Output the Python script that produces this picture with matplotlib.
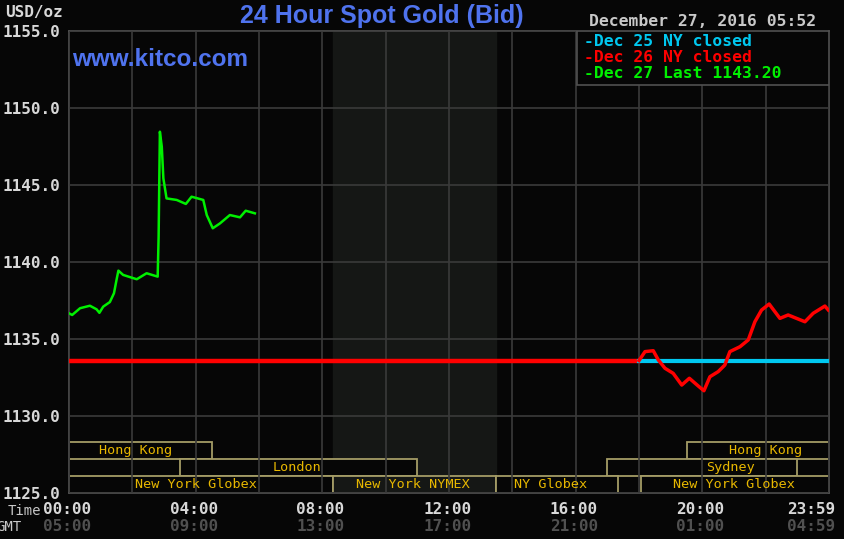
import matplotlib
matplotlib.use("Agg")
import matplotlib.pyplot as plt
import matplotlib.transforms as mtransforms

# Dec 27 (green), hours NY time vs price
green_t = [0.0, 0.1, 0.35, 0.66, 0.87, 0.96, 1.08, 1.29, 1.42, 1.5, 1.56, 1.71, 2.14, 2.45,
           2.8, 2.83, 2.87, 2.93, 2.98, 3.08, 3.4, 3.69, 3.87, 4.24, 4.35, 4.54, 4.77,
           5.08, 5.4, 5.58, 5.87]
green_p = [1136.67, 1136.56, 1137.0, 1137.16, 1136.93, 1136.7, 1137.1, 1137.4, 1137.97,
           1138.83, 1139.44, 1139.16, 1138.88, 1139.27, 1139.05, 1141.64, 1148.46, 1147.49,
           1145.43, 1144.13, 1144.03, 1143.77, 1144.24, 1144.03, 1143.05, 1142.19, 1142.51,
           1143.05, 1142.9, 1143.33, 1143.16]

# Dec 26 (red): flat holiday close, then trading after 18:00
red_t = [0.0, 18.0, 18.19, 18.45, 18.61, 18.82, 19.08, 19.35, 19.59, 19.87, 20.05, 20.24,
         20.5, 20.71, 20.87, 21.19, 21.45, 21.66, 21.87, 22.11, 22.45, 22.71, 23.24, 23.5,
         23.87, 23.98]
red_p = [1133.6, 1133.6, 1134.18, 1134.24, 1133.64, 1133.1, 1132.77, 1132.01, 1132.45,
         1131.95, 1131.64, 1132.55, 1132.88, 1133.31, 1134.18, 1134.5, 1134.94, 1136.12,
         1136.88, 1137.27, 1136.34, 1136.56, 1136.12, 1136.67, 1137.14, 1136.88]

# Dec 25 (cyan) close
cyan_t = [18.0, 24.0]
cyan_p = [1133.6, 1133.6]

y_ticks = [1125, 1130, 1135, 1140, 1145, 1150, 1155]
time_labels = ["00:00", "04:00", "08:00", "12:00", "16:00", "20:00", "23:59"]
gmt_labels = ["05:00", "09:00", "13:00", "17:00", "21:00", "01:00", "04:59"]
label_pos = [0, 4, 8, 12, 16, 20, 23.5]

# market sessions: (name, start, end, row, label centre)
markets = [("Hong Kong", 0, 4.5, 0, 2.1), ("Hong Kong", 19.5, 24, 0, 22.0),
           ("London", 3.5, 11.0, 1, 7.2), ("Sydney", 17.0, 23.0, 1, 20.9),
           ("New York Globex", 0, 8.33, 2, 4.0), ("New York NYMEX", 8.33, 13.5, 2, 10.85),
           ("NY Globex", 13.5, 17.35, 2, 15.2), ("New York Globex", 18.05, 24, 2, 21.0)]

bg = "#060606"
shade = "#151715"
blue = "#4f73ee"
mono = "DejaVu Sans Mono"

fig = plt.figure(figsize=(8.44, 5.39), dpi=100, facecolor=bg)
ax = fig.add_axes([69/844, 1 - 493/539, 760/844, 462/539], facecolor=bg)
ax.set_xlim(0, 24)
ax.set_ylim(1125, 1155)

# NYMEX shading
ax.axvspan(8.33, 13.5, color=shade, zorder=0)

ax.set_xticks(range(0, 25, 2))
ax.set_yticks(y_ticks)
ax.set_xticklabels([])
ax.set_yticklabels(["%.1f" % v for v in y_ticks], family=mono, fontweight="bold",
                   fontsize=11.5, color="#d8d8d8")
ax.tick_params(length=0, pad=6)
ax.set_axisbelow(False)
ax.grid(True, color="#3a3a3a", linewidth=1.2)
for s in ax.spines.values():
    s.set_color("#505050")
    s.set_linewidth(1.2)

# market boxes
tr = mtransforms.blended_transform_factory(ax.transData, ax.transAxes)
row_h = 0.0368
for name, x0, x1, row, xc in markets:
    y0 = (2 - row) * row_h
    fc = shade if "NYMEX" in name else bg
    ax.add_patch(plt.Rectangle((x0, y0), x1 - x0, row_h, transform=tr, facecolor=fc,
                               edgecolor="#a49c66", linewidth=1.3, zorder=1))
    ax.text(xc, y0 + row_h / 2, name, transform=tr, ha="center", va="center",
            family=mono, fontsize=9.7, color="#e8b800", zorder=4)

ax.plot(red_t[:2], red_p[:2], color="#ff0000", linewidth=3.2, zorder=5)
ax.plot(cyan_t, cyan_p, color="#00c8f0", linewidth=3, zorder=5)
ax.plot(red_t[1:], red_p[1:], color="#ff0000", linewidth=2.5, zorder=6)
ax.plot(green_t, green_p, color="#00f000", linewidth=1.8, zorder=6)

# time labels
for pos, t, g in zip(label_pos, time_labels, gmt_labels):
    ax.text(pos - 0.06, -0.035, t, transform=tr, ha="center", va="center", family=mono,
            fontweight="bold", fontsize=11.5, color="#d8d8d8")
    ax.text(pos - 0.06, -0.073, g, transform=tr, ha="center", va="center", family=mono,
            fontweight="bold", fontsize=11.5, color="#505050")
fig.text(8/844, 1 - 511/539, "Time", family=mono, fontsize=10, color="#c8c8c8", va="center")
fig.text(-4/844, 1 - 527/539, "GMT", family=mono, fontsize=10, color="#c8c8c8", va="center")

fig.text(5/844, 1 - 13/539, "USD/oz", family=mono, fontweight="bold", fontsize=11.5,
         color="#d8d8d8", va="center")
fig.text(382/844, 1 - 16/539, "24 Hour Spot Gold (Bid)", family="Liberation Sans",
         fontweight="bold", fontsize=18, color=blue, ha="center", va="center")
ax.text(72/844, 1 - 60/539, "www.kitco.com", transform=fig.transFigure,
        family="Liberation Sans", fontweight="bold", fontsize=17.5, color=blue,
        va="center", zorder=7)
fig.text(703/844, 1 - 22/539, "December 27, 2016 05:52", family=mono, fontweight="bold",
         fontsize=11.8, color="#c8c8c8", ha="center", va="center")

# legend box
ax.add_patch(plt.Rectangle((577/844, 1 - 85/539), 252/844, 54/539, transform=fig.transFigure,
                           facecolor=bg, edgecolor="#505050", linewidth=1.2, zorder=7))
leg = [("-Dec 25 NY closed", "#00c8f0"), ("-Dec 26 NY closed", "#ff0000"),
       ("-Dec 27 Last 1143.20", "#00f000")]
for i, (txt, c) in enumerate(leg):
    ax.text(584/844, 1 - (41 + 16.5 * i)/539, txt, transform=fig.transFigure, family=mono,
            fontweight="bold", fontsize=11.8, color=c, va="center", zorder=8)

fig.savefig("out.png", dpi=100, facecolor=bg)
